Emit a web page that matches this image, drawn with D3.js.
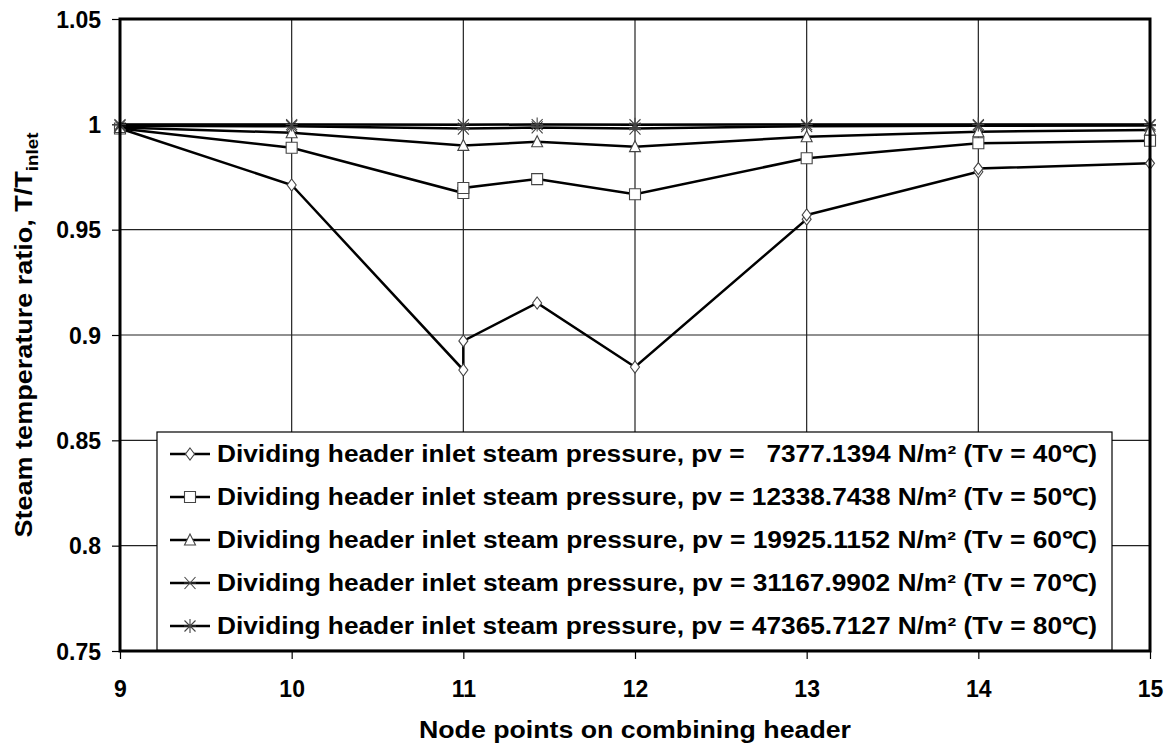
<!DOCTYPE html>
<html>
<head>
<meta charset="utf-8">
<script src="https://cdn.jsdelivr.net/npm/d3@7"></script>
<style>
  body { margin: 0; background: #fff; }
  text { font-family: "Liberation Sans", Arial, sans-serif; font-weight: bold; fill: #000; }
</style>
</head>
<body>
<div id="chart"></div>
<script>
// node positions along the combining header (11.43 is the mid node, some nodes appear twice)
var xTicks = [9, 10, 11, 12, 13, 14, 15];
var yTicks = [0.75, 0.8, 0.85, 0.9, 0.95, 1, 1.05];

var nodes40 = [9, 10, 11, 11, 11.43, 12, 13, 13, 14, 14, 15];
var ratio40 = [0.998, 0.9712, 0.8834, 0.8972, 0.9152, 0.8848, 0.955, 0.957, 0.9775, 0.979, 0.9815];

var nodes50 = [9, 10, 11, 11, 11.43, 12, 13, 14, 15];
var ratio50 = [0.998, 0.9889, 0.9674, 0.9698, 0.974, 0.9668, 0.9839, 0.991, 0.9922];

var nodes60 = [9, 10, 11, 11.43, 12, 13, 14, 15];
var ratio60 = [0.9985, 0.996, 0.990, 0.9917, 0.9894, 0.9941, 0.9965, 0.9973];

var nodes70 = [9, 10, 11, 11.43, 12, 13, 14, 15];
var ratio70 = [0.9993, 0.9991, 0.998, 0.9985, 0.998, 0.9991, 0.9993, 0.9994];

var nodes80 = [9, 10, 11, 11.43, 12, 13, 14, 15];
var ratio80 = [0.9999, 0.9999, 0.9998, 0.9999, 0.9998, 0.9999, 0.9999, 0.9999];

var legendLabels = [
  'Dividing header inlet steam pressure, pv =   7377.1394 N/m\u00b2 (Tv = 40\u2103)',
  'Dividing header inlet steam pressure, pv = 12338.7438 N/m\u00b2 (Tv = 50\u2103)',
  'Dividing header inlet steam pressure, pv = 19925.1152 N/m\u00b2 (Tv = 60\u2103)',
  'Dividing header inlet steam pressure, pv = 31167.9902 N/m\u00b2 (Tv = 70\u2103)',
  'Dividing header inlet steam pressure, pv = 47365.7127 N/m\u00b2 (Tv = 80\u2103)'
];

var series = [
  { xs: nodes40, ys: ratio40, marker: 'diamond' },
  { xs: nodes50, ys: ratio50, marker: 'square' },
  { xs: nodes60, ys: ratio60, marker: 'triangle' },
  { xs: nodes70, ys: ratio70, marker: 'x' },
  { xs: nodes80, ys: ratio80, marker: 'star' }
];

var width = 1174, height = 747;
var pl = 120, pr = 1150, pt = 19, pb = 651;

var svg = d3.select('#chart').append('svg')
  .attr('width', width)
  .attr('height', height);

var x = d3.scaleLinear().domain([9, 15]).range([pl, pr]);
var y = d3.scaleLinear().domain([0.75, 1.05]).range([pb, pt]);

// grid
svg.append('g').selectAll('line')
  .data(xTicks.slice(1, -1)).enter().append('line')
  .attr('x1', function (d) { return x(d); }).attr('x2', function (d) { return x(d); })
  .attr('y1', pt).attr('y2', pb)
  .attr('stroke', '#222').attr('stroke-width', 1.2);
svg.append('g').selectAll('line')
  .data(yTicks.slice(1, -1)).enter().append('line')
  .attr('y1', function (d) { return y(d); }).attr('y2', function (d) { return y(d); })
  .attr('x1', pl).attr('x2', pr)
  .attr('stroke', '#222').attr('stroke-width', 1.2);

// axes
var yAxis = d3.axisLeft(y).tickValues(yTicks).tickSize(8).tickPadding(11)
  .tickFormat(function (d) { return String(+d.toFixed(2)); });
var gy = svg.append('g').attr('transform', 'translate(' + pl + ',0)').call(yAxis);
gy.select('.domain').remove();
gy.selectAll('.tick line').attr('stroke', '#000').attr('stroke-width', 1.2);
gy.selectAll('.tick text').style('font-size', '23px').attr('fill', '#000').attr('dy', '0.36em');

var xAxis = d3.axisBottom(x).tickValues(xTicks).tickSize(8).tickPadding(30)
  .tickFormat(d3.format('d'));
var gx = svg.append('g').attr('transform', 'translate(0,' + pb + ')').call(xAxis);
gx.select('.domain').remove();
gx.selectAll('.tick line').attr('stroke', '#000').attr('stroke-width', 1.2);
gx.selectAll('.tick text').style('font-size', '23px').attr('fill', '#000').attr('dy', '0.36em');

// markers
function markerPath(type) {
  if (type === 'diamond') return 'M0,-6L4.5,0L0,6L-4.5,0Z';
  if (type === 'square') return 'M-5.5,-5.5H5.5V5.5H-5.5Z';
  if (type === 'triangle') return 'M0,-6L5.5,5L-5.5,5Z';
  if (type === 'x') return 'M-5.5,-6L5.5,6M5.5,-6L-5.5,6M-6,0H6';
  return 'M-5.5,-5.5L5.5,5.5M5.5,-5.5L-5.5,5.5M0,-7V7M-6,0H6';
}
function isOpen(type) { return type === 'x' || type === 'star'; }

var line = d3.line()
  .x(function (d) { return x(d[0]); })
  .y(function (d) { return y(d[1]); });

series.forEach(function (s) {
  var pts = s.xs.map(function (v, i) { return [v, s.ys[i]]; });
  var g = svg.append('g');
  g.append('path')
    .attr('d', line(pts))
    .attr('fill', 'none')
    .attr('stroke', '#000')
    .attr('stroke-width', 2.5);
  g.selectAll('path.m').data(pts).enter().append('path')
    .attr('class', 'm')
    .attr('d', markerPath(s.marker))
    .attr('transform', function (d) { return 'translate(' + x(d[0]) + ',' + y(d[1]) + ')'; })
    .attr('fill', isOpen(s.marker) ? 'none' : '#fff')
    .attr('stroke', '#444')
    .attr('stroke-width', 1.1);
});

// plot frame
svg.append('rect')
  .attr('x', pl).attr('y', pt)
  .attr('width', pr - pl).attr('height', pb - pt)
  .attr('fill', 'none').attr('stroke', '#000').attr('stroke-width', 3);

// legend
var lg = svg.append('g');
lg.append('rect')
  .attr('x', 157).attr('y', 432).attr('width', 955).attr('height', 218)
  .attr('fill', '#fff').attr('stroke', '#000').attr('stroke-width', 1.2);
var rows = lg.selectAll('g').data(series).enter().append('g')
  .attr('transform', function (d, i) { return 'translate(0,' + (454 + i * 43) + ')'; });
rows.append('line')
  .attr('x1', 170).attr('x2', 210).attr('y1', 0).attr('y2', 0)
  .attr('stroke', '#000').attr('stroke-width', 2.5);
rows.append('path')
  .attr('d', function (d) { return markerPath(d.marker); })
  .attr('transform', 'translate(190,0)')
  .attr('fill', function (d) { return isOpen(d.marker) ? 'none' : '#fff'; })
  .attr('stroke', '#444').attr('stroke-width', 1.1);
rows.append('text')
  .attr('x', 217).attr('y', 8)
  .attr('xml:space', 'preserve')
  .style('white-space', 'pre')
  .style('font-size', '23px')
  .attr('textLength', 880)
  .attr('lengthAdjust', 'spacingAndGlyphs')
  .text(function (d, i) { return legendLabels[i]; });

// axis titles
svg.append('text')
  .attr('x', x(12)).attr('y', 738)
  .attr('text-anchor', 'middle')
  .style('font-size', '24px')
  .attr('textLength', 432)
  .attr('lengthAdjust', 'spacingAndGlyphs')
  .text('Node points on combining header');

var yt = svg.append('text')
  .attr('transform', 'translate(32,' + ((pt + pb) / 2) + ') rotate(-90)')
  .attr('text-anchor', 'middle')
  .style('font-size', '23px')
  .attr('textLength', 405)
  .attr('lengthAdjust', 'spacingAndGlyphs');
yt.append('tspan').text('Steam temperature ratio, T/T');
yt.append('tspan').attr('dy', 6).style('font-size', '16px').text('inlet');
</script>
</body>
</html>
